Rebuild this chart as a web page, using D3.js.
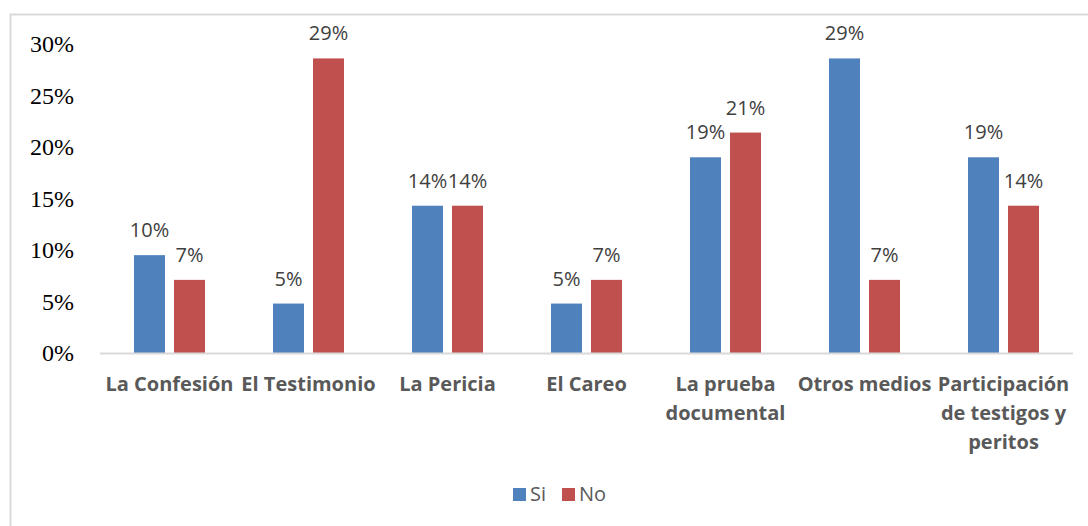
<!DOCTYPE html>
<html><head><meta charset="utf-8">
<script src="https://cdn.jsdelivr.net/npm/d3@7"></script>
<style>body{margin:0;background:#fff}</style>
</head><body><svg id="c" width="1088" height="526"></svg>
<script>
const categories = [["La Confesión"],["El Testimonio"],["La Pericia"],["El Careo"],["La prueba","documental"],["Otros medios"],["Participación","de testigos y","peritos"]];
const series = ["Si","No"];
const siValues = [9.5, 4.8, 14.3, 4.8, 19.0, 28.6, 19.0];
const noValues = [7.1, 28.6, 14.3, 7.1, 21.4, 7.1, 14.3];
const yTicks = [0,5,10,15,20,25,30];
const colors = {Si:"#4F81BD", No:"#C0504D"};

(function(){
const svg = d3.select("#c");
svg.append("rect").attr("x",10.5).attr("y",14.5).attr("width",1100).attr("height",600)
  .attr("fill","none").attr("stroke","#d9d9d9").attr("stroke-width",2);

const mLeft=100, mRight=1073, mTop=44, mBottom=353;
const y = d3.scaleLinear().domain([0,30]).range([mBottom,mTop]);
const x0 = d3.scaleBand().domain(d3.range(categories.length)).range([mLeft,mRight]);
const bw = x0.bandwidth();
const x1 = d3.scaleBand().domain(series).range([bw/2-35.5,bw/2+35.5]).paddingInner(0.225);

const ya = svg.append("g").attr("transform",`translate(74,0)`)
  .call(d3.axisLeft(y).tickValues(yTicks).tickFormat(d=>d+"%").tickSize(0).tickPadding(0));
ya.select(".domain").remove();
ya.selectAll("text").attr("font-family","'Liberation Serif', serif").attr("font-size",24).attr("fill","#000");

const data = categories.map((c,i)=>({i, Si:siValues[i], No:noValues[i]}));
const g = svg.selectAll("g.cat").data(data).join("g").attr("class","cat")
  .attr("transform",d=>`translate(${x0(d.i)},0)`);
g.selectAll("rect").data(d=>series.map(s=>({s,v:d[s]}))).join("rect")
  .attr("x",d=>x1(d.s)).attr("width",x1.bandwidth())
  .attr("y",d=>y(d.v)).attr("height",d=>mBottom-y(d.v)).attr("fill",d=>colors[d.s]);
g.selectAll("text.lab").data(d=>series.map(s=>({s,v:d[s]}))).join("text").attr("class","lab")
  .attr("x",d=>x1(d.s)+x1.bandwidth()/2).attr("y",d=>y(d.v)-25).attr("dy","0.35em")
  .attr("text-anchor","middle").attr("font-family","'Open Sans', sans-serif").attr("font-size",20)
  .attr("fill","#404040").text(d=>Math.round(d.v)+"%");

svg.append("line").attr("x1",mLeft).attr("x2",mRight).attr("y1",mBottom+0.5).attr("y2",mBottom+0.5)
  .attr("stroke","#d9d9d9").attr("stroke-width",2);

const xa = svg.append("g");
categories.forEach((lines,i)=>{
  const t = xa.append("text").attr("x",x0(i)+bw/2).attr("text-anchor","middle")
    .attr("font-family","'Open Sans', sans-serif").attr("font-weight","bold").attr("font-size",20).attr("fill","#595959");
  lines.forEach((l,j)=>t.append("tspan").attr("x",x0(i)+bw/2).attr("y",384+j*29).attr("dy","0.35em").text(l));
});

const leg = svg.append("g");
const legX = {Si:513, No:562};
series.forEach(s=>{
  leg.append("rect").attr("x",legX[s]).attr("y",488).attr("width",13).attr("height",13).attr("fill",colors[s]);
  leg.append("text").attr("x",legX[s]+17).attr("y",494).attr("dy","0.35em")
    .attr("font-family","'Open Sans', sans-serif").attr("font-size",20).attr("fill","#595959").text(s);
});
})();
</script></body></html>
